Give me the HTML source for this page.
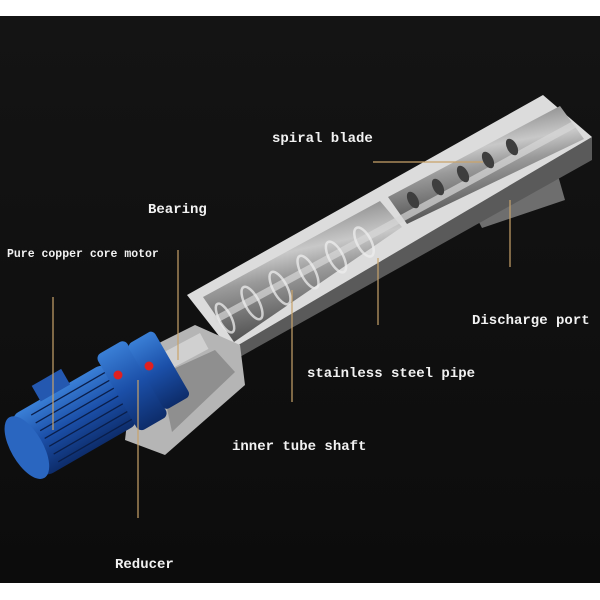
<!DOCTYPE html>
<html><head><meta charset="utf-8"><style>
html,body{margin:0;padding:0;background:#fff}
svg{display:block}
text{font-family:"Liberation Mono",monospace;font-weight:bold;fill:#f2f2f2}
</style></head><body>
<svg width="600" height="600" viewBox="0 0 600 600">
<defs>
<linearGradient id="bg" x1="0" y1="0" x2="0" y2="1"><stop offset="0" stop-color="#141414"/><stop offset="1" stop-color="#0c0c0c"/></linearGradient>
<linearGradient id="inner" x1="0" y1="0" x2="0.3" y2="1"><stop offset="0" stop-color="#5a5a5a"/><stop offset="0.45" stop-color="#c8c8c8"/><stop offset="0.6" stop-color="#9a9a9a"/><stop offset="1" stop-color="#4a4a4a"/></linearGradient>
<linearGradient id="blue" x1="0" y1="0" x2="0" y2="1"><stop offset="0" stop-color="#3a7fd6"/><stop offset="0.5" stop-color="#1b4fa8"/><stop offset="1" stop-color="#0d2c6a"/></linearGradient>
</defs>
<rect width="600" height="600" fill="#fff"/>
<rect x="0" y="16" width="600" height="567" fill="url(#bg)"/>
<!-- discharge port box -->
<polygon points="470,205 555,165 565,200 482,228" fill="#6e6e6e"/>
<!-- trough side -->
<polygon points="230,350 592,137 592,160 238,358" fill="#5a5a5a"/>
<!-- frame top -->
<polygon points="187,295 543,95 592,137 230,350" fill="#dcdcdc"/>
<!-- inner openings -->
<polygon points="203,297 380,201 402,227 234,342" fill="url(#inner)"/>
<polygon points="388,197 560,106 584,139 407,224" fill="url(#inner)"/>
<line x1="215" y1="320" x2="575" y2="124" stroke="#d8d8d8" stroke-width="7" opacity="0.7"/>
<!-- spiral blades -->
<g fill="none" stroke="#eeeeee" stroke-width="2.5" opacity="0.75">
<ellipse cx="225" cy="318" rx="6" ry="16" transform="rotate(-28 225 318)"/>
<ellipse cx="252" cy="303" rx="7" ry="18" transform="rotate(-28 252 303)"/>
<ellipse cx="280" cy="288" rx="7" ry="18" transform="rotate(-28 280 288)"/>
<ellipse cx="308" cy="272" rx="7" ry="18" transform="rotate(-28 308 272)"/>
<ellipse cx="336" cy="257" rx="7" ry="17" transform="rotate(-28 336 257)"/>
<ellipse cx="364" cy="242" rx="7" ry="16" transform="rotate(-28 364 242)"/>
</g>
<g fill="#3e3e3e">
<ellipse cx="413" cy="200" rx="5" ry="9" transform="rotate(-28 413 200)"/>
<ellipse cx="438" cy="187" rx="5" ry="9" transform="rotate(-28 438 187)"/>
<ellipse cx="463" cy="174" rx="5" ry="9" transform="rotate(-28 463 174)"/>
<ellipse cx="488" cy="160" rx="5" ry="9" transform="rotate(-28 488 160)"/>
<ellipse cx="512" cy="147" rx="5" ry="9" transform="rotate(-28 512 147)"/>
</g>
<!-- feed end plate / bearing -->
<polygon points="135,355 195,325 240,345 245,385 165,455 125,440" fill="#b5b5b5"/>
<polygon points="160,375 215,350 235,372 172,432" fill="#8f8f8f"/>
<rect x="160" y="345" width="48" height="18" fill="#d0d0d0" transform="rotate(-28 180 355)"/>
<!-- motor -->
<g transform="translate(6,0) rotate(-30 80 410)">
<rect x="10" y="378" width="110" height="70" rx="10" fill="url(#blue)"/>
<rect x="115" y="368" width="34" height="88" rx="6" fill="url(#blue)"/>
<rect x="148" y="374" width="30" height="76" rx="5" fill="url(#blue)"/>
<ellipse cx="10" cy="413" rx="16" ry="35" fill="#2a66c0"/>
<rect x="45" y="362" width="34" height="18" fill="#2458b0"/>
<g stroke="#0a1e4a" stroke-width="1.3">
<line x1="30" y1="387" x2="115" y2="387"/><line x1="30" y1="396" x2="115" y2="396"/>
<line x1="30" y1="405" x2="115" y2="405"/><line x1="30" y1="414" x2="115" y2="414"/>
<line x1="30" y1="423" x2="115" y2="423"/><line x1="30" y1="432" x2="115" y2="432"/>
<line x1="30" y1="441" x2="115" y2="441"/>
</g>
</g>
<circle cx="118" cy="375" r="4.5" fill="#e02020"/>
<circle cx="149" cy="366" r="4.5" fill="#e02020"/>
<!-- leader lines -->
<g stroke="#c9a36a" stroke-width="1.2">
<line x1="373" y1="162" x2="483" y2="162"/>
<line x1="178" y1="250" x2="178" y2="360"/>
<line x1="53" y1="297" x2="53" y2="430"/>
<line x1="510" y1="200" x2="510" y2="267"/>
<line x1="378" y1="258" x2="378" y2="325"/>
<line x1="292" y1="290" x2="292" y2="402"/>
<line x1="138" y1="380" x2="138" y2="518"/>
</g>
<text x="272" y="142" font-size="14">spiral blade</text>
<text x="148" y="213" font-size="14">Bearing</text>
<text x="7" y="257" font-size="11.5">Pure copper core motor</text>
<text x="472" y="324" font-size="14">Discharge port</text>
<text x="307" y="377" font-size="14">stainless steel pipe</text>
<text x="232" y="450" font-size="14">inner tube shaft</text>
<text x="115" y="568" font-size="14">Reducer</text>
</svg>
</body></html>
